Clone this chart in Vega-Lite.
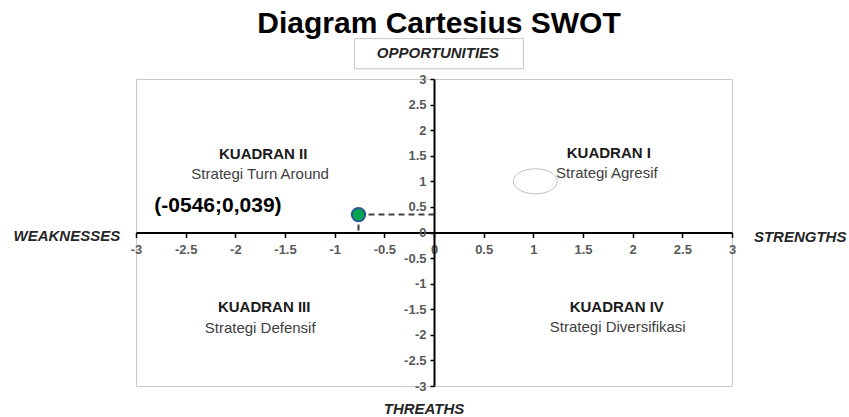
{
  "$schema": "https://vega.github.io/schema/vega-lite/v6.json",
  "width": 596,
  "height": 307,
  "autosize": {"type": "none"},
  "padding": {"left": 136, "top": 79, "right": 117, "bottom": 31},
  "background": "white",
  "title": {
    "text": "Diagram Cartesius SWOT",
    "font": "Liberation Sans",
    "fontSize": 30,
    "fontWeight": "bold",
    "color": "#000000",
    "anchor": "middle",
    "frame": "group",
    "offset": -1,
    "dx": 5
  },
  "config": {
    "view": {"stroke": "#c8c8c8", "strokeWidth": 1},
    "text": {"font": "Liberation Sans"},
    "axis": {"labelOverlap": false, "labelFlush": false, "grid": false}
  },
  "datasets": {
    "point": [{"x": -0.76, "y": 0.35}],
    "pointlabel": [{"x": -2.175, "y": 0.51, "text": "(-0546;0,039)"}],
    "headings": [
      {"x": -1.72, "y": 1.54, "text": "KUADRAN II"},
      {"x": 1.76, "y": 1.56, "text": "KUADRAN I"},
      {"x": -1.71, "y": -1.46, "text": "KUADRAN III"},
      {"x": 1.84, "y": -1.46, "text": "KUADRAN IV"}
    ],
    "strategies": [
      {"x": -1.75, "y": 1.15, "text": "Strategi Turn Around"},
      {"x": 1.74, "y": 1.17, "text": "Strategi Agresif"},
      {"x": -1.75, "y": -1.87, "text": "Strategi Defensif"},
      {"x": 1.85, "y": -1.85, "text": "Strategi Diversifikasi"}
    ],
    "ellipse": [{"x": 1.02, "y": 1.0}],
    "axisnames": [
      {"x": -3.696, "y": -0.06, "text": "WEAKNESSES"},
      {"x": 3.686, "y": -0.08, "text": "STRENGTHS"},
      {"x": -0.1, "y": -3.44, "text": "THREATHS"},
      {"x": 0.04, "y": 3.5, "text": "OPPORTUNITIES"}
    ],
    "box": [{"x": -0.8, "x2": 0.9, "y": 3.79, "y2": 3.2}]
  },
  "encoding": {
    "x": {"field": "x", "type": "quantitative", "scale": {"domain": [-3, 3], "nice": false, "zero": false}, "axis": {
      "orient": "bottom", "offset": -153.5, "values": [-3, -2.5, -2, -1.5, -1, -0.5, 0, 0.5, 1, 1.5, 2, 2.5, 3],
      "labelExpr": "'' + datum.value", "labelFont": "Liberation Sans", "labelFontSize": 13, "labelFontWeight": "bold",
      "labelColor": "#595959", "labelPadding": 6, "labelFlush": false, "labelOverlap": false,
      "tickSize": 5, "tickColor": "#000000", "tickWidth": 1.5, "domainColor": "#000000", "domainWidth": 2,
      "grid": false, "title": null
    }},
    "y": {"field": "y", "type": "quantitative", "scale": {"domain": [-3, 3], "nice": false, "zero": false}, "axis": {
      "orient": "left", "offset": -298, "values": [-3, -2.5, -2, -1.5, -1, -0.5, 0, 0.5, 1, 1.5, 2, 2.5, 3],
      "labelExpr": "'' + datum.value", "labelFont": "Liberation Sans", "labelFontSize": 13, "labelFontWeight": "bold",
      "labelColor": "#595959", "labelPadding": 4, "labelFlush": false, "labelOverlap": false,
      "tickSize": 4, "tickColor": "#000000", "tickWidth": 1.5, "domainColor": "#000000", "domainWidth": 2,
      "grid": false, "title": null
    }}
  },
  "layer": [
    {
      "data": {"name": "box"},
      "mark": {"type": "rect", "fill": "white", "stroke": "#c8c8c8", "strokeWidth": 1},
      "encoding": {
        "x2": {"field": "x2"},
        "y2": {"field": "y2"}
      }
    },
    {
      "data": {"name": "axisnames"},
      "mark": {"type": "text", "fontSize": 15, "fontWeight": "bold", "fontStyle": "italic", "color": "#262626", "align": "center", "baseline": "middle"},
      "encoding": {"text": {"field": "text"}}
    },
    {
      "data": {"name": "ellipse"},
      "mark": {"type": "point", "shape": "M -1 0 A 1 0.57 0 1 0 1 0 A 1 0.57 0 1 0 -1 0 Z", "size": 1936, "filled": false, "stroke": "#c0c0c0", "strokeWidth": 1, "opacity": 1},
      "encoding": {}
    },
    {
      "data": {"name": "headings"},
      "mark": {"type": "text", "fontSize": 15, "fontWeight": "bold", "color": "#1a1a1a", "align": "center", "baseline": "middle"},
      "encoding": {"text": {"field": "text"}}
    },
    {
      "data": {"name": "strategies"},
      "mark": {"type": "text", "fontSize": 15, "color": "#404040", "align": "center", "baseline": "middle"},
      "encoding": {"text": {"field": "text"}}
    },
    {
      "data": {"name": "point"},
      "mark": {"type": "rule", "strokeDash": [6, 4], "strokeWidth": 2, "color": "#404040"},
      "encoding": {"x2": {"datum": 0}}
    },
    {
      "data": {"name": "point"},
      "mark": {"type": "rule", "strokeDash": [6, 4], "strokeWidth": 2, "color": "#404040"},
      "encoding": {"y2": {"datum": 0}}
    },
    {
      "data": {"name": "point"},
      "mark": {"type": "point", "shape": "circle", "size": 180, "filled": true, "fill": "#00a651", "stroke": "#2f5597", "strokeWidth": 2, "opacity": 1},
      "encoding": {}
    },
    {
      "data": {"name": "pointlabel"},
      "mark": {"type": "text", "fontSize": 21, "fontWeight": "bold", "color": "#000000", "align": "center", "baseline": "middle"},
      "encoding": {"text": {"field": "text"}}
    }
  ]
}
